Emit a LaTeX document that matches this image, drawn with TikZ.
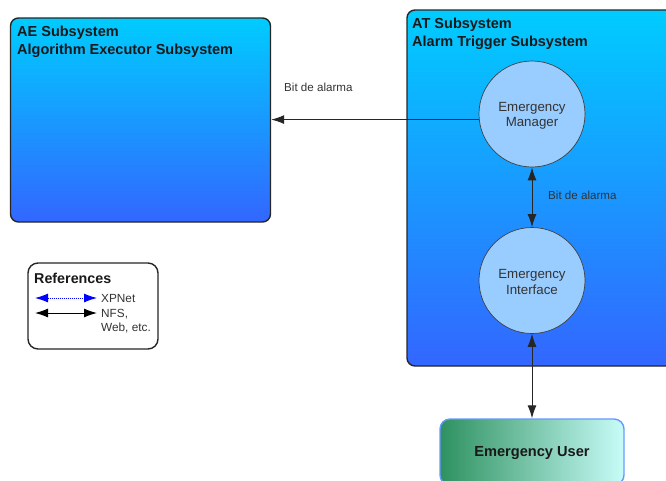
\documentclass[tikz,border=0pt]{standalone}
\usepackage{fontspec}
\setmainfont{Liberation Sans}
\usetikzlibrary{arrows.meta}
\definecolor{cyantop}{HTML}{00CCFF}
\definecolor{bluebot}{HTML}{3366FF}
\definecolor{circfill}{HTML}{99CCFF}
\definecolor{greenl}{HTML}{2E9160}
\definecolor{cyanr}{HTML}{C8FCF8}
\definecolor{userborder}{HTML}{6699FF}
\definecolor{txtgray}{HTML}{333333}
\tikzset{
  subsys/.style={draw=black!85, line width=1.4pt, rounded corners=8pt, top color=cyantop, bottom color=bluebot, inner sep=0pt},
  titletext/.style={font=\fontsize{14.5}{17.5}\selectfont\bfseries, align=left, inner sep=0pt, anchor=north west, text=black!90},
  circ/.style={circle, draw=black!75, line width=0.7pt, fill=circfill, minimum size=106pt, inner sep=0pt, align=center},
  circtext/.style={font=\fontsize{13.3}{15.5}\selectfont, align=center, text=txtgray, inner sep=0pt},
  lbl/.style={font=\fontsize{11.6}{13}\selectfont, text=txtgray, inner sep=0pt},
  arr/.style={line width=1pt, draw=black!85, -{Latex[length=13pt,width=9pt]}},
  darr/.style={line width=1pt, draw=black!85, {Latex[length=13pt,width=9pt]}-{Latex[length=13pt,width=9pt]}},
  userbox/.style={draw=userborder, line width=1.4pt, rounded corners=10pt, left color=greenl, right color=cyanr, minimum width=184pt, minimum height=66pt, inner sep=0pt},
  usertext/.style={font=\fontsize{14.6}{16}\selectfont\bfseries, text=black!90, inner sep=0pt},
  refbox/.style={draw=black!85, line width=1.4pt, rounded corners=10pt, fill=white, minimum width=130pt, minimum height=86pt, inner sep=0pt},
  reftext/.style={font=\fontsize{11.8}{14}\selectfont, text=txtgray, inner sep=0pt, align=left},
}
\begin{document}
\begin{tikzpicture}[x=1pt,y=-1pt]
\useasboundingbox (0,0) rectangle (666,480);
\clip (0,0) rectangle (666,480);
% AE subsystem
\node[subsys, minimum width=260pt, minimum height=204pt] (ae) at (140.5,120) {};
\node[titletext] (aet) at (17,26) {AE Subsystem\\Algorithm Executor Subsystem};
% AT subsystem
\node[subsys, minimum width=280pt, minimum height=356pt] (at) at (547,188) {};
\node[titletext] (att) at (412,18) {AT Subsystem\\Alarm Trigger Subsystem};
% circles
\node[circ] (em) at (532,114) {};
\node[circtext] (emt) at (532,116) {Emergency\\Manager};
\node[circ] (ei) at (532,280.5) {};
\node[circtext] (eit) at (532,282) {Emergency\\Interface};
% user
\node[userbox] (eu) at (532,452) {};
\node[usertext] (eut) at (532,453) {Emergency User};
% connectors
\draw[arr] (em.186.5) -- (em.186.5 -| ae.east);
\node[lbl, anchor=west] (l1) at (284,87) {Bit de alarma};
\draw[darr] (em.south) -- (ei.north);
\node[lbl, anchor=west] (l2) at (548,195) {Bit de alarma};
\draw[darr] (ei.south) -- (eu.north);
% references
\node[refbox] (ref) at (93,306) {};
\node[font=\fontsize{14.3}{15}\selectfont\bfseries, inner sep=0pt, anchor=west, text=black!90] (reft) at (34,278) {References};
\coordinate (a1) at (35,298);
\coordinate (b1) at (97,298);
\coordinate (a2) at (35,313);
\coordinate (b2) at (97,313);
\draw[line width=0.9pt, draw=blue, dash pattern=on 1pt off 1pt, {Latex[length=13pt,width=9pt,fill=blue]}-{Latex[length=13pt,width=9pt,fill=blue]}] (a1) -- (b1);
\draw[darr, draw=black] (a2) -- (b2);
\node[reftext, anchor=west] (x1) at (101,298) {XPNet};
\node[reftext, anchor=north west] (x2) at (101,309) {NFS,\\Web, etc.};
\end{tikzpicture}
\end{document}
